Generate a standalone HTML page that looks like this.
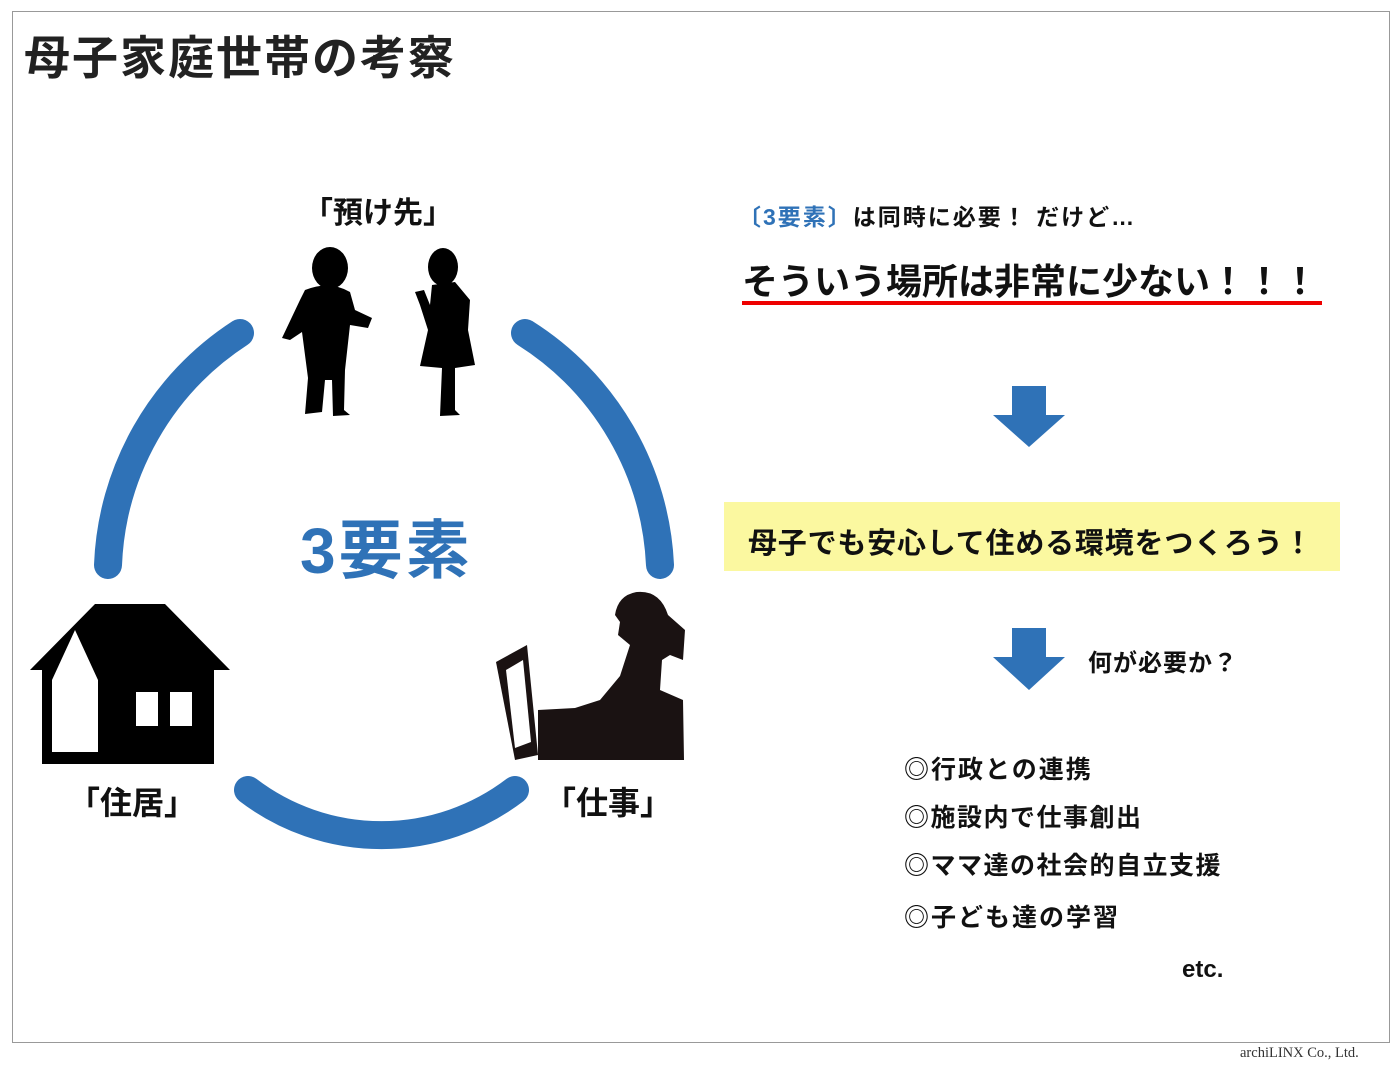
<!DOCTYPE html>
<html><head><meta charset="utf-8"><style>
body{margin:0;width:1400px;height:1065px;background:#fff;position:relative;font-family:"Liberation Sans","Noto Sans CJK JP",sans-serif;overflow:hidden}
.t{position:absolute;white-space:nowrap;font-weight:bold;color:#111}
</style></head><body>
<div style="position:absolute;left:12px;top:11px;width:1376px;height:1030px;border:1px solid #999"></div>
<div class="t" style="left:24px;top:22px;font-size:46px;letter-spacing:2px;color:#222">母子家庭世帯の考察</div>
<svg style="position:absolute;left:0;top:0" width="1400" height="1065">
<g fill="none" stroke="#2f72b7" stroke-width="28" stroke-linecap="round">
<path d="M240,333 A290,290 0 0 0 108,565"/>
<path d="M525,333 A290,290 0 0 1 660,565"/>
<path d="M248,790 A220,220 0 0 0 515,790"/>
</g>
<path d="M30,670 L95,604 L165,604 L230,670 L214,670 L214,764 L42,764 L42,670 Z" fill="#000"/>
<path d="M52,752 L52,680 L75,630 L98,680 L98,752 Z" fill="#fff"/>
<rect x="136" y="692" width="22" height="34" fill="#fff"/><rect x="170" y="692" width="22" height="34" fill="#fff"/>
<g fill="#000">
<ellipse cx="330" cy="268" rx="18" ry="21"/>
<path d="M305,290 Q330,280 350,292 L355,310 L372,318 L368,328 L350,325 L345,370 L344,410 L350,415 L333,416 L332,380 L325,380 L322,412 L305,414 L308,378 L302,332 L290,340 L282,338 L300,300 Z"/>
<ellipse cx="443" cy="267" rx="15" ry="19"/>
<path d="M432,285 L455,282 L470,300 L468,330 L475,365 L455,368 L455,410 L460,415 L440,416 L442,368 L420,366 L428,330 L420,305 L415,292 L424,290 L430,305 Z"/>
</g>
<g fill="#1a1212">
<path d="M496,662 L527,645 L538,755 L515,760 Z"/>
<path d="M506,670 L523,660 L531,742 L515,748 Z" fill="#fff"/>
<path d="M637,592 Q660,590 668,615 L685,630 L683,660 L670,655 L662,660 L660,690 L683,700 L684,760 L538,760 L538,710 L575,708 L600,700 L620,676 L630,645 L618,635 L620,622 L615,615 Q618,595 637,592 Z"/>
</g>
</svg>
<div class="t" style="left:303px;top:188px;font-size:30px">「預け先」</div>
<div class="t" style="left:68px;top:778px;font-size:32px">「住居」</div>
<div class="t" style="left:544px;top:778px;font-size:32px">「仕事」</div>
<div class="t" style="left:300px;top:500px;font-size:64px;letter-spacing:3px;color:#2f72b7">3要素</div>
<div class="t" style="left:738px;top:198px;font-size:23px;letter-spacing:2px"><span style="color:#2f72b7">〔3要素〕</span>は同時に必要！ だけど…</div>
<div class="t" style="left:742px;top:253px;font-size:36px">そういう場所は非常に少ない！！！</div>
<div style="position:absolute;left:742px;top:301px;width:580px;height:4px;background:#e00"></div>
<svg style="position:absolute;left:0;top:0" width="1400" height="1065">
<path d="M1012,386 L1046,386 L1046,415 L1065,415 L1029,447 L993,415 L1012,415 Z" fill="#2f72b7"/>
<path d="M1012,628 L1046,628 L1046,657 L1065,657 L1029,690 L993,657 L1012,657 Z" fill="#2f72b7"/>
</svg>
<div style="position:absolute;left:724px;top:502px;width:616px;height:69px;background:#fbf8a0"></div>
<div class="t" style="left:748px;top:520px;font-size:29px;letter-spacing:0.8px">母子でも安心して住める環境をつくろう！</div>
<div class="t" style="left:1088px;top:643px;font-size:24px;letter-spacing:1px">何が必要か？</div>
<div class="t" style="left:904px;top:750px;font-size:25px;letter-spacing:2px">◎行政との連携</div>
<div class="t" style="left:904px;top:798px;font-size:25px;letter-spacing:1.5px">◎施設内で仕事創出</div>
<div class="t" style="left:904px;top:846px;font-size:25px;letter-spacing:1.5px">◎ママ達の社会的自立支援</div>
<div class="t" style="left:904px;top:898px;font-size:25px;letter-spacing:2px">◎子ども達の学習</div>
<div class="t" style="left:1182px;top:956px;font-size:24px">etc.</div>
<div style="position:absolute;left:1240px;top:1045px;font-size:14.5px;font-family:'Liberation Serif',serif;color:#333">archiLINX Co., Ltd.</div>
</body></html>
